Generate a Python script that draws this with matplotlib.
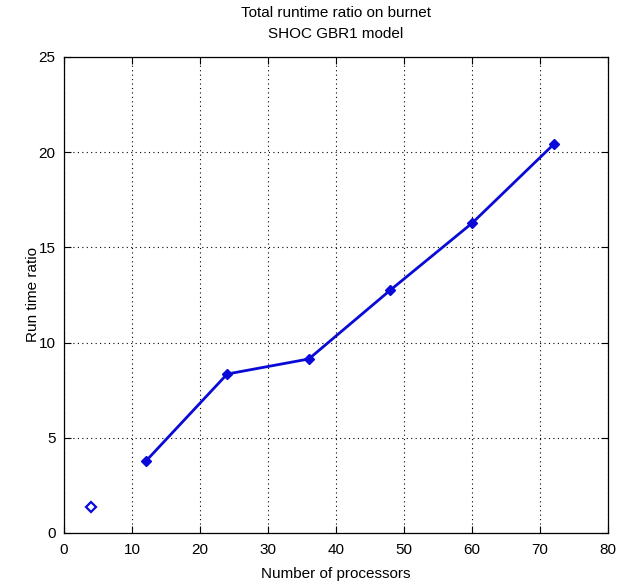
import matplotlib
matplotlib.use("Agg")
import matplotlib.pyplot as plt

# Data
single_proc = [4]
single_ratio = [1.38]
processors = [12, 24, 36, 48, 60, 72]
ratio = [3.76, 8.35, 9.14, 12.76, 16.27, 20.41]
xticks = [0, 10, 20, 30, 40, 50, 60, 70, 80]
yticks = [0, 5, 10, 15, 20, 25]

plt.rcParams['font.family'] = ['Liberation Sans Narrow', 'Liberation Sans', 'DejaVu Sans']

fig = plt.figure(figsize=(6.21, 5.84), dpi=100)
ax = fig.add_axes([64/621, 51/584, 544/621, 476/584])

color = '#0a0ad8'
ax.plot(processors, ratio, '-D', color=color, lw=2, ms=5)
ax.plot(single_proc, single_ratio, 'D', color=color, ms=5, mfc='white', mew=1.6)

ax.set_xlim(0, 80)
ax.set_ylim(0, 25)
ax.set_xticks(xticks)
ax.set_yticks(yticks)
ax.grid(True, color='black', linestyle=(0, (1, 3)), linewidth=0.8)
ax.tick_params(direction='in', top=True, right=True, labelsize=11, length=5, width=0.8)
ax.tick_params(axis='x', pad=7)
ax.tick_params(axis='y', pad=6)
for s in ax.spines.values():
    s.set_linewidth(0.9)

ax.set_xlabel('Number of processors', fontsize=11)
ax.xaxis.set_label_coords(0.5, (533 - 567) / 476)
ax.set_ylabel('Run time ratio', fontsize=11)
ax.yaxis.set_label_coords((40 - 64) / 544, 0.5)

fig.text(336 / 621, 1 - 13 / 584, 'Total runtime ratio on burnet', ha='center', va='center', fontsize=11)
fig.text(336 / 621, 1 - 34 / 584, 'SHOC GBR1 model', ha='center', va='center', fontsize=11)

fig.savefig('out.png', dpi=100)
